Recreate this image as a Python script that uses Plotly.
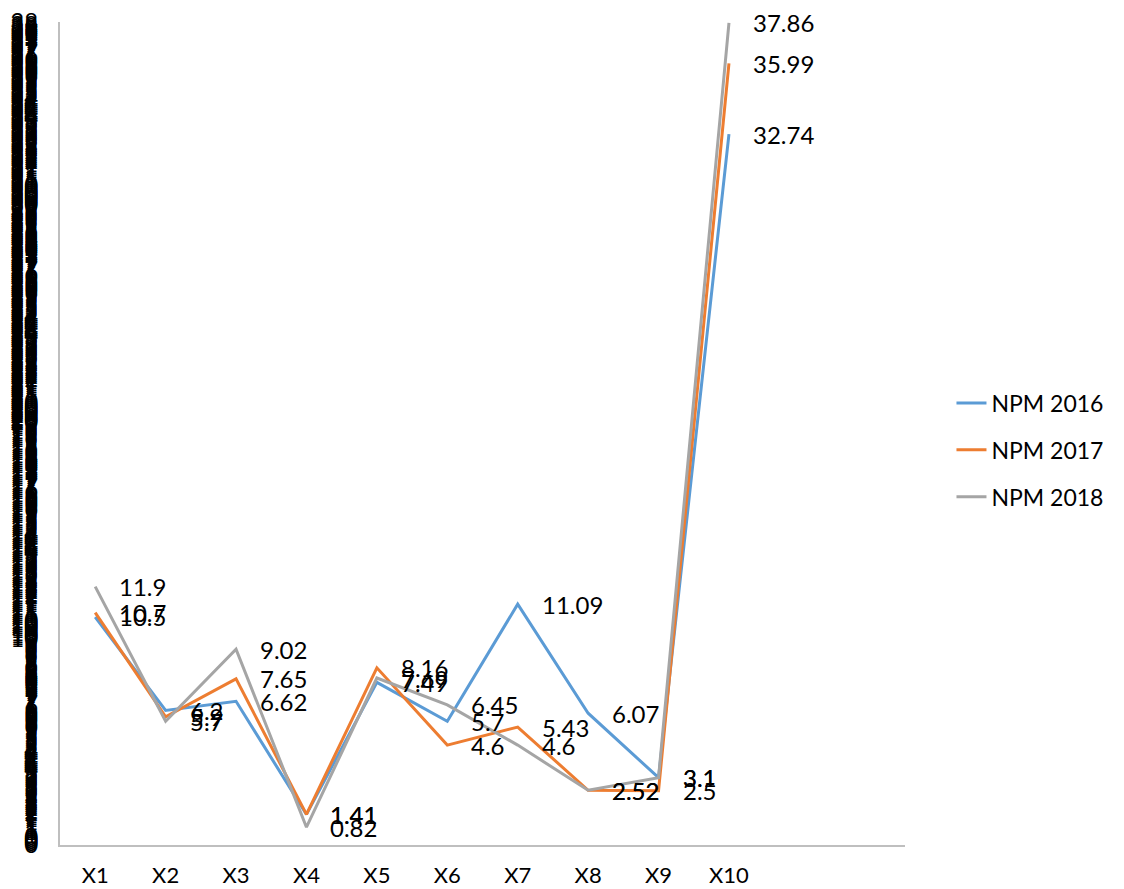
import numpy as np
import plotly.graph_objects as go

categories = ["X1", "X2", "X3", "X4", "X5", "X6", "X7", "X8", "X9", "X10"]
npm_2016 = [10.5, 6.2, 6.62, 1.41, 7.49, 5.7, 11.09, 6.07, 3.1, 32.74]
npm_2017 = [10.7, 5.9, 7.65, 1.41, 8.16, 4.6, 5.43, 2.52, 2.5, 35.99]
npm_2018 = [11.9, 5.7, 9.02, 0.82, 7.69, 6.45, 4.6, 2.52, 3.1, 37.86]

series = [
    ("NPM 2016", npm_2016, "#5B9BD5"),
    ("NPM 2017", npm_2017, "#ED7D31"),
    ("NPM 2018", npm_2018, "#A5A5A5"),
]

FONT = "Lato"
x_pos = list(range(len(categories)))

fig = go.Figure()
annotations = []
for i, (name, vals, color) in enumerate(series):
    fig.add_trace(go.Scatter(
        x=x_pos, y=vals, mode="lines", name=name,
        legendgroup=name,
        line=dict(color=color, width=3),
    ))
    for xv, yv in zip(x_pos, vals):
        annotations.append(dict(
            x=xv, y=yv, xref="x", yref="y", text=f"{yv:g}",
            showarrow=False, xanchor="left", yanchor="middle",
            xshift=22, font=dict(family=FONT, size=24, color="#000000"),
        ))

y_max = 37.9
fig.update_layout(
    width=1124, height=889,
    margin=dict(l=60, r=219, t=22, b=44),
    paper_bgcolor="white", plot_bgcolor="white",
    font=dict(family=FONT, size=23, color="#000000"),
    showlegend=True,
    legend=dict(
        x=1.055, y=0.48, xanchor="left", yanchor="middle",
        font=dict(family=FONT, size=23, color="#000000"),
        tracegroupgap=14, bgcolor="rgba(0,0,0,0)",
    ),
    annotations=annotations,
    xaxis=dict(
        range=[-0.5, 11.5], automargin=False,
        tickmode="array", tickvals=x_pos, ticktext=categories,
        showline=True, linecolor="#BFBFBF", linewidth=2,
        showgrid=False, zeroline=False, ticks="",
        ticklabelstandoff=10,
        tickfont=dict(family=FONT, size=22, color="#000000"),
    ),
    yaxis=dict(
        range=[0, y_max], automargin=False,
        tickmode="linear", tick0=0, dtick=0.1, tickformat=".0f",
        showline=True, linecolor="#BFBFBF", linewidth=2,
        showgrid=False, zeroline=False, ticks="",
        ticklabelstandoff=15,
        tickfont=dict(family=FONT, size=24, color="#000000"),
    ),
)

fig.write_html("out.html")
